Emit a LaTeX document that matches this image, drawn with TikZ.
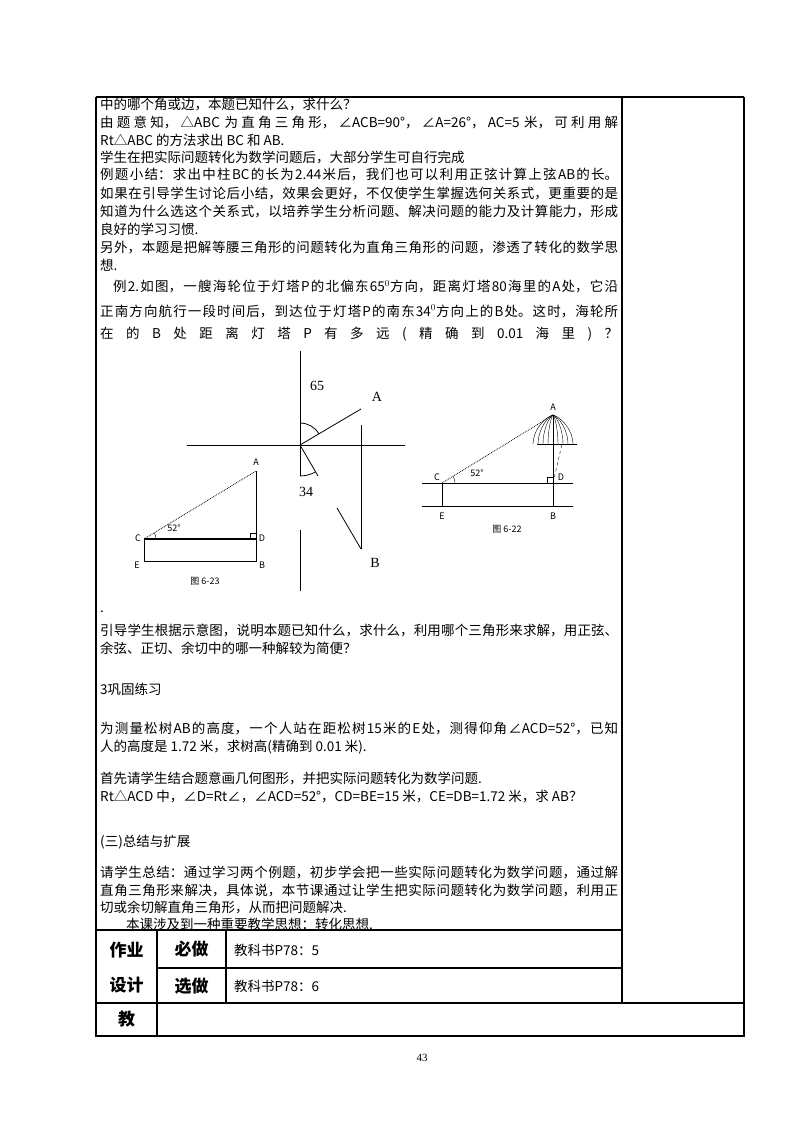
\documentclass[tikz,border=0pt]{standalone}
\usepackage{fontspec}
\setmainfont{Liberation Serif}
\newfontfamily\cjk{Noto Sans CJK SC}
\XeTeXlinebreaklocale "zh"
\XeTeXlinebreakskip=0pt plus 3pt
\newcommand\fl[1]{\parbox{518pt}{\parfillskip=0pt\parindent=0pt\emergencystretch=20pt #1\par}}
\begin{document}
\begin{tikzpicture}[x=1pt,y=-1pt,
  tx/.style={anchor=west,inner sep=0pt,font=\cjk\fontsize{13.5}{14}\selectfont},
  hd/.style={inner sep=0pt,font=\cjk\bfseries\fontsize{17}{18}\selectfont},
  sm/.style={inner sep=0pt,font=\cjk\fontsize{9}{10}\selectfont},
  lb/.style={inner sep=0pt,font=\fontsize{14}{15}\selectfont},
  tbl/.style={line width=1.2pt}]
\useasboundingbox[fill=white] (0,0) rectangle (800,1132);
% table
\draw[tbl] (96,97) -- (744,97);
\draw[line width=2pt] (96,97) -- (96,1036) -- (744,1036) -- (744,97);
\draw[tbl] (622,97) -- (622,1003);
\draw[tbl] (96,930) -- (622,930);
\draw[tbl] (157,968) -- (622,968);
\draw[tbl] (96,1003) -- (744,1003);
\draw[tbl] (157,930) -- (157,1036);
\draw[tbl] (226,930) -- (226,1003);
% text
\node[tx] (t1) at (100,105) {中的哪个角或边，本题已知什么，求什么？};
\node[tx] (t2) at (100,122) {\fl{由题意知，△ABC 为直角三角形，∠ACB=90°，∠A=26°，AC=5 米，可利用解}};
\node[tx] (t3) at (100,140) {Rt△ABC 的方法求出 BC 和 AB.};
\node[tx] (t4) at (100,157) {学生在把实际问题转化为数学问题后，大部分学生可自行完成};
\node[tx] (t5) at (100,175) {\fl{例题小结：求出中柱BC的长为2.44米后，我们也可以利用正弦计算上弦AB的长。}};
\node[tx] (t6) at (100,193) {\fl{如果在引导学生讨论后小结，效果会更好，不仅使学生掌握选何关系式，更重要的是}};
\node[tx] (t7) at (100,211) {\fl{知道为什么选这个关系式，以培养学生分析问题、解决问题的能力及计算能力，形成}};
\node[tx] (t8) at (100,229) {良好的学习习惯.};
\node[tx] (t9) at (100,247) {\fl{另外，本题是把解等腰三角形的问题转化为直角三角形的问题，渗透了转化的数学思}};
\node[tx] (t10) at (100,265) {想.};
\node[tx] (t11) at (100,287) {\fl{\hspace*{13pt}例2.如图，一艘海轮位于灯塔P的北偏东65$^{0}$方向，距离灯塔80海里的A处，它沿}};
\node[tx] (t12) at (100,311) {\fl{正南方向航行一段时间后，到达位于灯塔P的南东34$^{0}$方向上的B处。这时，海轮所}};
\node[tx] (t13) at (100,334) {\makebox[518pt][s]{在 的 B 处 距 离 灯 塔 P 有 多 远 ( 精 确 到 0.01 海 里 ) ？}};
\node[tx] (t14) at (100,612) {.};
\node[tx] (t15) at (100,630) {\fl{引导学生根据示意图，说明本题已知什么，求什么，利用哪个三角形来求解，用正弦、}};
\node[tx] (t16) at (100,648) {余弦、正切、余切中的哪一种解较为简便？};
\node[tx] (t17) at (100,689) {3巩固练习};
\node[tx] (t18) at (100,729) {\fl{为测量松树AB的高度，一个人站在距松树15米的E处，测得仰角∠ACD=52°，已知}};
\node[tx] (t19) at (100,747) {人的高度是 1.72 米，求树高(精确到 0.01 米).};
\node[tx] (t20) at (100,778) {首先请学生结合题意画几何图形，并把实际问题转化为数学问题.};
\node[tx] (t21) at (100,797) {Rt△ACD 中，∠D=Rt∠，∠ACD=52°，CD=BE=15 米，CE=DB=1.72 米，求 AB？};
\node[tx] (t22) at (100,842) {(三)总结与扩展};
\node[tx] (t23) at (100,872) {\fl{请学生总结：通过学习两个例题，初步学会把一些实际问题转化为数学问题，通过解}};
\node[tx] (t24) at (100,890) {\fl{直角三角形来解决，具体说，本节课通过让学生把实际问题转化为数学问题，利用正}};
\node[tx] (t25) at (100,907) {切或余切解直角三角形，从而把问题解决.};
\node[tx] (t26) at (100,924) {\hspace*{26pt}本课涉及到一种重要教学思想：转化思想.};
\node[hd] (h1) at (126.5,950) {作业};
\node[hd] (h2) at (126.5,985) {设计};
\node[hd] (h3) at (191.5,949) {必做};
\node[hd] (h4) at (191.5,986) {选做};
\node[hd] (h5) at (126.5,1019) {教};
\node[tx] (h6) at (234,950) {教科书P78：5};
\node[tx] (h7) at (234,986) {教科书P78：6};
\node[inner sep=0pt,font=\fontsize{11}{12}\selectfont] (pg) at (422,1058) {43};
% middle figure
\coordinate (P) at (300,445);
\coordinate (A) at (361,409);
\coordinate (Bp) at (361,549);
\draw[thick] (187,445) -- (405,445);
\draw[thick] (300,351) -- (300,476);
\draw[thick] (300,530) -- (300,591);
\draw[thick] (P) -- (A);
\draw[thick] (361,425) -- (Bp);
\draw[thick] (Bp) -- (337,508);
\draw[thick] (P) -- (318,476);
\draw[thick] (300,423) arc[start angle=-90,end angle=-31,radius=22];
\draw[thick] (300,476) arc[start angle=90,end angle=60,radius=31];
\node[lb] (l65) at (317,386) {65};
\node[lb] (lA) at (377,397) {A};
\node[lb] (l34) at (306,492) {34};
\node[lb] (lB) at (375,563) {B};
% figure 6-23
\coordinate (C1) at (144,539);
\coordinate (D1) at (256,539);
\coordinate (A1) at (256,471);
\coordinate (E1) at (144,561);
\coordinate (B1) at (256,561);
\draw[densely dotted,thick] (C1) -- (A1);
\draw[thick] (A1) -- (D1);
\draw[line width=1.2pt] (C1) -- (D1);
\draw (C1) -- (E1) -- (B1) -- (D1);
\draw (250,539) -- (250,533) -- (256,533);
\draw (156,539) arc[start angle=0,end angle=-31,radius=12];
\node[sm] (a1) at (256,462) {A};
\node[sm] (c1) at (138,538) {C};
\node[sm] (d1) at (262,538) {D};
\node[sm] (e1) at (137,565) {E};
\node[sm] (b1) at (262,565) {B};
\node[sm] (g1) at (174,528) {52°};
\node[sm] (cap1) at (205,581) {图 6-23};
% figure 6-22
\coordinate (C2) at (442,483);
\coordinate (D2) at (553,483);
\coordinate (A2) at (553,415);
\coordinate (E2) at (442,506);
\coordinate (B2) at (553,506);
\draw (422,483) -- (573,483);
\draw (422,506) -- (573,506);
\draw (C2) -- (E2);
\draw[densely dotted,thick] (C2) -- (A2);
\draw[thick] (A2) -- (B2);
\draw[thick] (537,444) -- (577,444);
\draw[dashed] (D2) -- (562,444);
\draw (547,483) -- (547,477) -- (553,477);
\draw (455,483) arc[start angle=0,end angle=-31,radius=13];
\foreach \r in {5,10,15,20}{
  \draw (553-\r,444) .. controls (553-\r,430) and (553-\r*0.4,417) .. (A2);
  \draw (553+\r,444) .. controls (553+\r,430) and (553+\r*0.4,417) .. (A2);
}
\node[sm] (a2) at (553,407) {A};
\node[sm] (c2) at (437,477) {C};
\node[sm] (d2) at (561,477) {D};
\node[sm] (e2) at (442,516) {E};
\node[sm] (b2) at (553,516) {B};
\node[sm] (g2) at (477,473) {52°};
\node[sm] (cap2) at (507,529) {图 6-22};
\end{tikzpicture}
\end{document}
